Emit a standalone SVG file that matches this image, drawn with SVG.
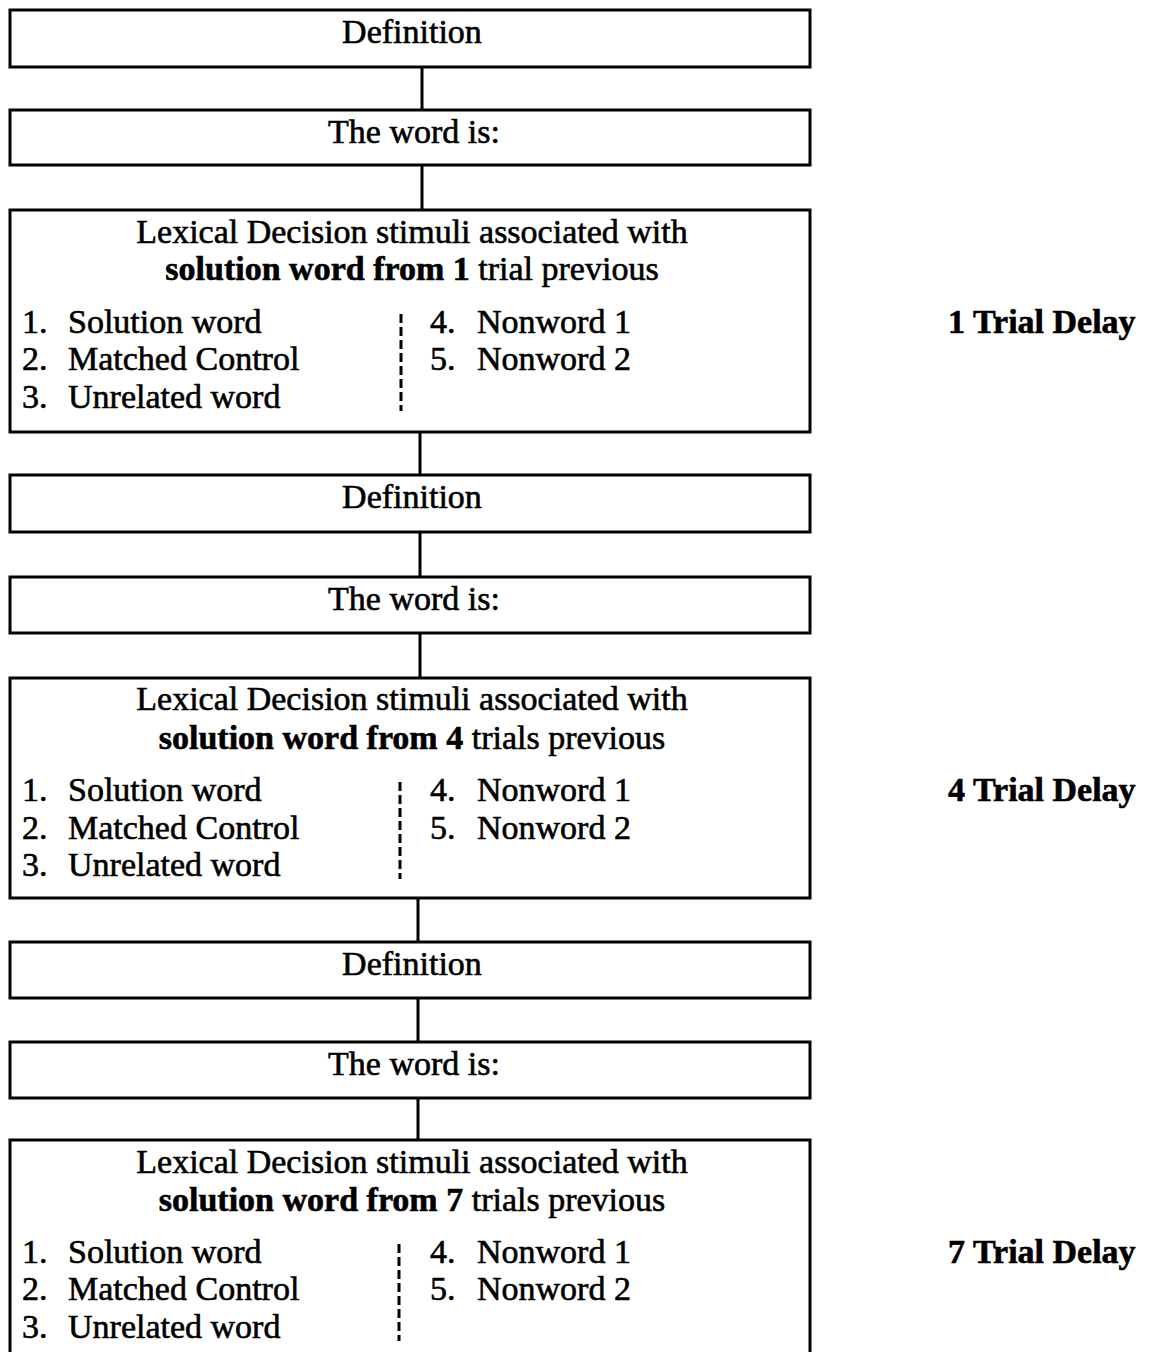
<svg xmlns="http://www.w3.org/2000/svg" width="1152" height="1352" viewBox="0 0 1152 1352">
<style>
.box{fill:#fff;stroke:#000;stroke-width:3}
.con{stroke:#000;stroke-width:3;fill:none}
.sep{stroke:#000;stroke-width:3;stroke-dasharray:9 4;fill:none}
text{font-family:"Liberation Serif","Times New Roman",serif;font-size:34px;fill:#000;stroke:#000;stroke-width:0.6}
.c{text-anchor:middle}
.b{font-weight:bold}
</style>
<rect width="1152" height="1352" fill="#fff"/>
<g id="connectors">
<line class="con" x1="422" y1="67" x2="422" y2="110"/>
<line class="con" x1="422" y1="165" x2="422" y2="210"/>
<line class="con" x1="420" y1="432" x2="420" y2="475"/>
<line class="con" x1="420" y1="532" x2="420" y2="577"/>
<line class="con" x1="420" y1="633" x2="420" y2="678"/>
<line class="con" x1="418" y1="898" x2="418" y2="942"/>
<line class="con" x1="418" y1="998" x2="418" y2="1042"/>
<line class="con" x1="418" y1="1098" x2="418" y2="1140"/>
</g>
<g id="def1"><rect class="box" x="10" y="10" width="800" height="57"/><text class="c" x="412" y="43">Definition</text></g>
<g id="word1"><rect class="box" x="10" y="110" width="800" height="55"/><text class="c" x="414" y="143">The word is:</text></g>
<g id="lex1"><rect class="box" x="10" y="210" width="800" height="222"/>
<text class="c" x="412" y="243">Lexical Decision stimuli associated with</text>
<text class="c" x="412" y="280"><tspan class="b">solution word from 1</tspan> trial previous</text>
<text x="22" y="333">1.</text><text x="68" y="333">Solution word</text>
<text x="22" y="370">2.</text><text x="68" y="370">Matched Control</text>
<text x="22" y="408">3.</text><text x="68" y="408">Unrelated word</text>
<text x="430" y="333">4.</text><text x="477" y="333">Nonword 1</text>
<text x="430" y="370">5.</text><text x="477" y="370">Nonword 2</text>
<line class="sep" x1="401" y1="314" x2="401" y2="411"/>
</g>
<g id="delay1"><text class="b" x="948" y="333">1 Trial Delay</text></g>
<g id="def2"><rect class="box" x="10" y="475" width="800" height="57"/><text class="c" x="412" y="508">Definition</text></g>
<g id="word2"><rect class="box" x="10" y="577" width="800" height="56"/><text class="c" x="414" y="610">The word is:</text></g>
<g id="lex2"><rect class="box" x="10" y="678" width="800" height="220"/>
<text class="c" x="412" y="710">Lexical Decision stimuli associated with</text>
<text class="c" x="412" y="749"><tspan class="b">solution word from 4</tspan> trials previous</text>
<text x="22" y="801">1.</text><text x="68" y="801">Solution word</text>
<text x="22" y="839">2.</text><text x="68" y="839">Matched Control</text>
<text x="22" y="876">3.</text><text x="68" y="876">Unrelated word</text>
<text x="430" y="801">4.</text><text x="477" y="801">Nonword 1</text>
<text x="430" y="839">5.</text><text x="477" y="839">Nonword 2</text>
<line class="sep" x1="400" y1="782" x2="400" y2="879"/>
</g>
<g id="delay4"><text class="b" x="948" y="801">4 Trial Delay</text></g>
<g id="def3"><rect class="box" x="10" y="942" width="800" height="56"/><text class="c" x="412" y="975">Definition</text></g>
<g id="word3"><rect class="box" x="10" y="1042" width="800" height="56"/><text class="c" x="414" y="1075">The word is:</text></g>
<g id="lex3"><rect class="box" x="10" y="1140" width="800" height="230"/>
<text class="c" x="412" y="1173">Lexical Decision stimuli associated with</text>
<text class="c" x="412" y="1211"><tspan class="b">solution word from 7</tspan> trials previous</text>
<text x="22" y="1263">1.</text><text x="68" y="1263">Solution word</text>
<text x="22" y="1300">2.</text><text x="68" y="1300">Matched Control</text>
<text x="22" y="1338">3.</text><text x="68" y="1338">Unrelated word</text>
<text x="430" y="1263">4.</text><text x="477" y="1263">Nonword 1</text>
<text x="430" y="1300">5.</text><text x="477" y="1300">Nonword 2</text>
<line class="sep" x1="399" y1="1244" x2="399" y2="1341"/>
</g>
<g id="delay7"><text class="b" x="948" y="1263">7 Trial Delay</text></g>
</svg>
